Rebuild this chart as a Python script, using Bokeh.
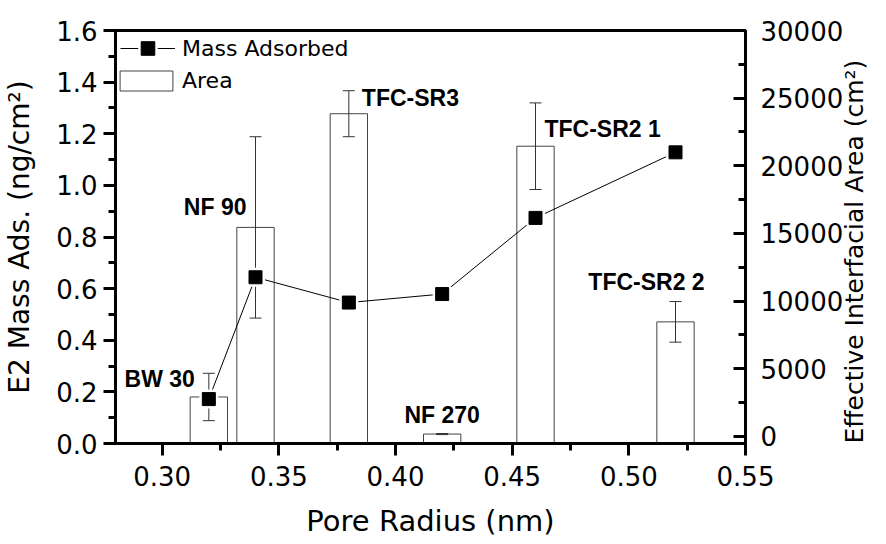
import math
from bokeh.plotting import figure
from bokeh.models import (Range1d, LinearAxis, FixedTicker, PrintfTickFormatter,
                          ColumnDataSource, Legend, LegendItem)
from bokeh.embed import file_html
from bokeh.resources import INLINE
from bokeh.core.properties import value, field

# ---------------- data ----------------
pore_radius = [0.32, 0.34, 0.38, 0.42, 0.46, 0.52]
membranes = ["BW 30", "NF 90", "TFC-SR3", "NF 270", "TFC-SR2 1", "TFC-SR2 2"]
mass_adsorbed = [0.172, 0.644, 0.546, 0.579, 0.874, 1.128]
interfacial_area = [2920, 15450, 23850, 180, 21450, 8470]
area_error = [1750, 6700, 1700, 40, 3200, 1500]

x_ticks = [0.30, 0.35, 0.40, 0.45, 0.50, 0.55]
left_ticks = [0.0, 0.2, 0.4, 0.6, 0.8, 1.0, 1.2, 1.4, 1.6]
right_ticks = [0, 5000, 10000, 15000, 20000, 25000, 30000]

# ---------------- style ----------------
X_START, X_END = 0.28, 0.55
LEFT_START, LEFT_END = 0.0, 1.6
RIGHT_START, RIGHT_END = -518, 30000
BAR_WIDTH = 0.016
label_align = ["right", "right", "left", "center", "left", "center"]
label_dx = [-14, -9, 13, 0, 9, -29]
label_dy = [-18, -20, -16, -19, -17, -40]

TICK_FONT = "DejaVu Sans"
TICK_SIZE = "26px"
TITLE_SIZE = "28px"
W, H = 886, 544


def mids(t):
    return [(a + b) / 2 for a, b in zip(t, t[1:])]


p = figure(width=W, height=H,
           x_range=Range1d(X_START, X_END),
           y_range=Range1d(LEFT_START, LEFT_END),
           output_backend="svg", toolbar_location=None,
           min_border_left=115, min_border_right=141,
           min_border_top=30, min_border_bottom=101)
p.extra_y_ranges = {"area": Range1d(RIGHT_START, RIGHT_END)}
p.xgrid.visible = False
p.ygrid.visible = False
p.outline_line_color = "black"
p.outline_line_width = 3
p.background_fill_color = "white"
p.border_fill_color = "white"

# ---------------- glyphs ----------------
bar_src = ColumnDataSource(dict(
    x=pore_radius,
    top=interfacial_area,
    upper=[a + e for a, e in zip(interfacial_area, area_error)],
    lower=[a - e for a, e in zip(interfacial_area, area_error)],
))
bars = p.vbar(x="x", top="top", bottom=RIGHT_START, width=BAR_WIDTH, source=bar_src,
              y_range_name="area", fill_color="white", line_color="#444444", line_width=1)
p.segment(x0="x", y0="lower", x1="x", y1="upper", source=bar_src, y_range_name="area",
          line_color="#333333", line_width=1)
p.scatter(x="x", y="upper", source=bar_src, y_range_name="area", marker="dash",
          size=12, line_color="#333333", line_width=1)
p.scatter(x="x", y="lower", source=bar_src, y_range_name="area", marker="dash",
          size=12, line_color="#333333", line_width=1)

mass_src = ColumnDataSource(dict(x=pore_radius, y=mass_adsorbed))
line_r = p.line(x="x", y="y", source=mass_src, line_color="black", line_width=1)
halo_r = p.scatter(x="x", y="y", source=mass_src, marker="square", size=13,
                   fill_color="white", line_color="white", line_width=6)
sq_r = p.scatter(x="x", y="y", source=mass_src, marker="square", size=13,
                 fill_color="black", line_color="black", line_width=1)

lab_src = ColumnDataSource(dict(x=pore_radius, y=interfacial_area, text=membranes,
                                align=label_align, dx=label_dx, dy=label_dy))
p.text(x="x", y="y", text="text", source=lab_src, y_range_name="area",
       x_offset="dx", y_offset="dy", text_align=field("align"), text_baseline="middle",
       text_font=value("Liberation Sans"), text_font_style="bold",
       text_font_size="23px", text_color="black")

# ---------------- axes ----------------
def style_axis(ax):
    ax.axis_line_width = 3
    ax.axis_line_color = "black"
    ax.major_tick_line_width = 3
    ax.minor_tick_line_width = 3
    ax.major_tick_line_color = "black"
    ax.minor_tick_line_color = "black"
    ax.major_label_text_font = TICK_FONT
    ax.major_label_text_font_size = TICK_SIZE
    ax.major_label_text_color = "black"
    ax.axis_label_text_font = TICK_FONT
    ax.axis_label_text_font_size = TITLE_SIZE
    ax.axis_label_text_font_style = "normal"
    ax.axis_label_text_color = "black"


xa = p.xaxis[0]
style_axis(xa)
xa.ticker = FixedTicker(ticks=x_ticks, minor_ticks=mids(x_ticks))
xa.formatter = PrintfTickFormatter(format="%.2f")
xa.major_tick_out = 12
xa.major_tick_in = 0
xa.minor_tick_out = 7
xa.minor_tick_in = 0
xa.major_label_standoff = 10
xa.axis_label = "Pore Radius (nm)"
xa.axis_label_text_font_size = "29px"
xa.axis_label_standoff = 15

ya = p.yaxis[0]
style_axis(ya)
ya.ticker = FixedTicker(ticks=left_ticks, minor_ticks=mids(left_ticks))
ya.formatter = PrintfTickFormatter(format="%.1f")
ya.major_tick_out = 12
ya.major_tick_in = 0
ya.minor_tick_out = 7
ya.minor_tick_in = 0
ya.major_label_standoff = 6
ya.axis_label = "E2 Mass Ads. (ng/cm\u00b2)"
ya.axis_label_standoff = 17

ra = LinearAxis(y_range_name="area")
style_axis(ra)
ra.ticker = FixedTicker(ticks=right_ticks, minor_ticks=mids(right_ticks))
ra.formatter = PrintfTickFormatter(format="%d")
ra.major_tick_out = 0
ra.major_tick_in = 12
ra.minor_tick_out = 0
ra.minor_tick_in = 7
ra.major_label_standoff = 15
ra.axis_label = "Effective Interfacial Area (cm\u00b2)"
ra.axis_label_text_font_size = "25px"
ra.axis_label_standoff = 8
ra.axis_label_orientation = math.pi / 2
if "axis_label_align" in ra.properties():
    ra.axis_label_align = "start"
p.add_layout(ra, "right")

# ---------------- legends ----------------
leg_mass = Legend(items=[LegendItem(label="Mass Adsorbed", renderers=[line_r, halo_r, sq_r])],
                  location=(5, 378), glyph_width=55, glyph_height=34, label_standoff=7,
                  padding=0, margin=0, border_line_alpha=0, background_fill_alpha=0,
                  label_text_font=TICK_FONT, label_text_font_size="22px",
                  label_text_color="black")
leg_area = Legend(items=[LegendItem(label="Area", renderers=[bars])],
                  location=(-2, 350), glyph_width=66, glyph_height=25, label_standoff=3,
                  padding=0, margin=0, border_line_alpha=0, background_fill_alpha=0,
                  label_text_font=TICK_FONT, label_text_font_size="22px",
                  label_text_color="black")
p.add_layout(leg_mass)
p.add_layout(leg_area)

open("out.html", "w").write(file_html(p, INLINE))
